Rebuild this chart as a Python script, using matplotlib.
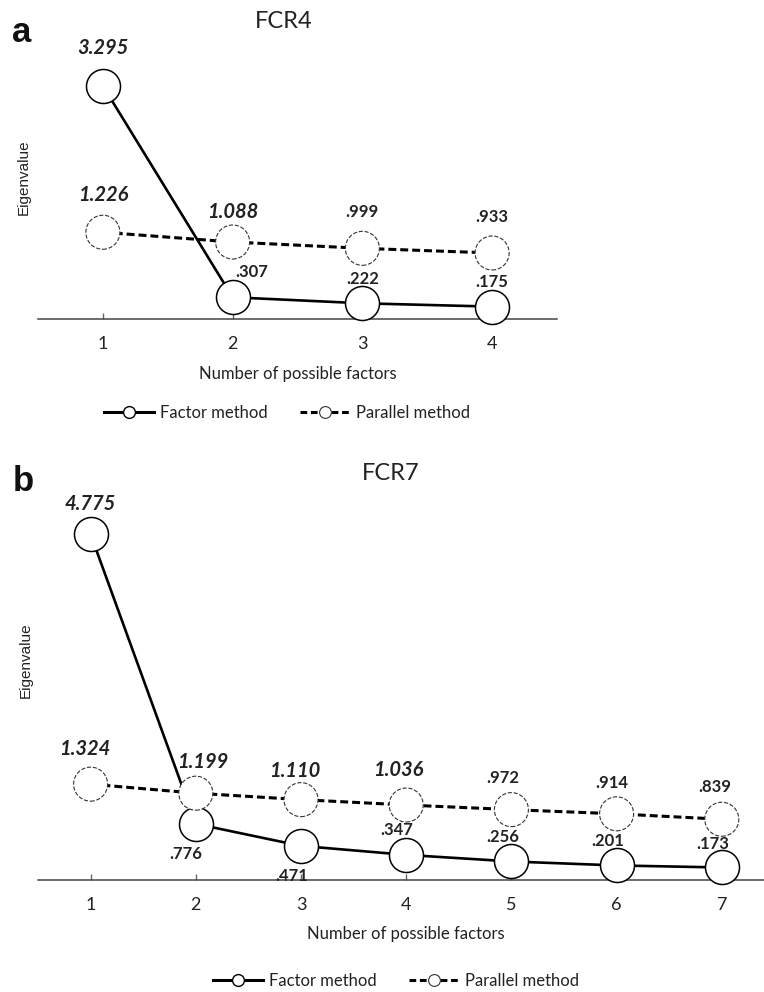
import matplotlib
matplotlib.use("Agg")
import matplotlib.pyplot as plt
from matplotlib.lines import Line2D

# data
fcr4_factors = [1, 2, 3, 4]
fcr4_factor_method = [3.295, 0.307, 0.222, 0.175]
fcr4_parallel_method = [1.226, 1.088, 0.999, 0.933]

fcr7_factors = [1, 2, 3, 4, 5, 6, 7]
fcr7_factor_method = [4.775, 0.776, 0.471, 0.347, 0.256, 0.201, 0.173]
fcr7_parallel_method = [1.324, 1.199, 1.110, 1.036, 0.972, 0.914, 0.839]

# label offsets in pixels (dx, dy)
fcr4_factor_off = [(0, 38), (19, 25), (0, 24), (0, 25)]
fcr4_parallel_off = [(0, 37), (0, 30), (0, 36), (0, 36)]
fcr7_factor_off = [(0, 30), (-10, -30), (-9, -30), (-10, 25), (-9, 24), (-9, 24), (-9, 23)]
fcr7_parallel_off = [(-6, 35), (7, 31), (-6, 29), (-8, 35), (-9, 32), (-5, 31), (-7, 32)]

W, H = 764, 992
TXT = "#222222"
FONT = "Lato"

fig = plt.figure(figsize=(W / 100, H / 100), dpi=100)


def fx(x):
    return x / W


def fy(y):
    return 1 - y / H


def label_text(v):
    s = f"{v:.3f}"
    if v < 1:
        s = s[1:]
    return s


def draw_panel(ax, xs, factor, parallel, foff, poff, ymax):
    ax.plot(xs, factor, color="black", lw=1.9, zorder=2, solid_capstyle="butt")
    ax.plot(xs, parallel, color="black", lw=2.2, zorder=2, dashes=(2.6, 1.3))
    ax.scatter(xs, factor, s=600, facecolors="white", edgecolors="black",
               linewidths=1.1, zorder=4, clip_on=False)
    ax.scatter(xs, parallel, s=600, facecolors="white", edgecolors="#333333",
               linewidths=0.8, linestyles="--", zorder=5, clip_on=False)
    for vals, offs in ((factor, foff), (parallel, poff)):
        for x, v, (dx, dy) in zip(xs, vals, offs):
            big = v >= 1
            ax.annotate(label_text(v), (x, v), xytext=(dx, dy),
                        textcoords="offset pixels", ha="center", va="center",
                        fontsize=14.5 if big else 12, fontweight="bold",
                        fontstyle="italic" if big else "normal",
                        family=FONT, color=TXT, annotation_clip=False, zorder=6)
    ax.set_xlim(0.5, len(xs) + 0.5)
    ax.set_ylim(0, ymax)
    ax.set_xticks(xs)
    ax.set_xticklabels([str(x) for x in xs], family=FONT, fontsize=13, color=TXT)
    ax.set_yticks([])
    for side in ("top", "right", "left"):
        ax.spines[side].set_visible(False)
    ax.spines["bottom"].set_color("#444444")
    ax.spines["bottom"].set_linewidth(1.1)
    ax.tick_params(axis="x", direction="in", length=4, width=1, color="#666666", pad=12)
    ax.set_xlabel("Number of possible factors", family=FONT, fontsize=12, color=TXT)
    ax.set_ylabel("Eigenvalue", family="Liberation Sans", fontsize=11, color=TXT)


# panel a
ax1 = fig.add_axes([fx(38), fy(319), 519 / W, 283 / H])
draw_panel(ax1, fcr4_factors, fcr4_factor_method, fcr4_parallel_method,
           fcr4_factor_off, fcr4_parallel_off, 4)
ax1.xaxis.set_label_coords(0.5, -0.165)
ax1.yaxis.set_label_coords(-0.0135, 0.5)

# panel b
ax2 = fig.add_axes([fx(38), fy(880), 736.4 / W, 5 * 72.4 / H])
draw_panel(ax2, fcr7_factors, fcr7_factor_method, fcr7_parallel_method,
           fcr7_factor_off, fcr7_parallel_off, 5)
ax2.xaxis.set_label_coords(0.5, -0.128)
ax2.yaxis.set_label_coords(-0.007, 0.608)

# titles and panel letters
fig.text(fx(284), fy(22), "FCR4", ha="center", va="center", fontsize=17, family=FONT, color=TXT)
fig.text(fx(391), fy(473), "FCR7", ha="center", va="center", fontsize=17, family=FONT, color=TXT)
fig.text(fx(22), fy(32), "a", ha="center", va="center", fontsize=25, fontweight="bold",
         family="Liberation Sans", color="#111111")
fig.text(fx(23), fy(482), "b", ha="center", va="center", fontsize=25, fontweight="bold",
         family="Liberation Sans", color="#111111")

# legends
handles = [
    Line2D([], [], color="black", lw=2.2, marker="o", ms=8.5, mfc="white", mec="black"),
    Line2D([], [], color="black", lw=2.2, dashes=(2.2, 1.2), marker="o", ms=8.5,
           mfc="white", mec="#333333", mew=0.8),
]
names = ["Factor method", "Parallel method"]
for cx, cy in ((287, 413), (396, 981)):
    fig.legend(handles, names, loc="center", bbox_to_anchor=(fx(cx), fy(cy)), ncol=2,
               frameon=False, handlelength=3.0, handletextpad=0.35, columnspacing=2.0,
               prop={"family": FONT, "size": 12}, labelcolor=TXT)

fig.savefig("out.png", dpi=100)
